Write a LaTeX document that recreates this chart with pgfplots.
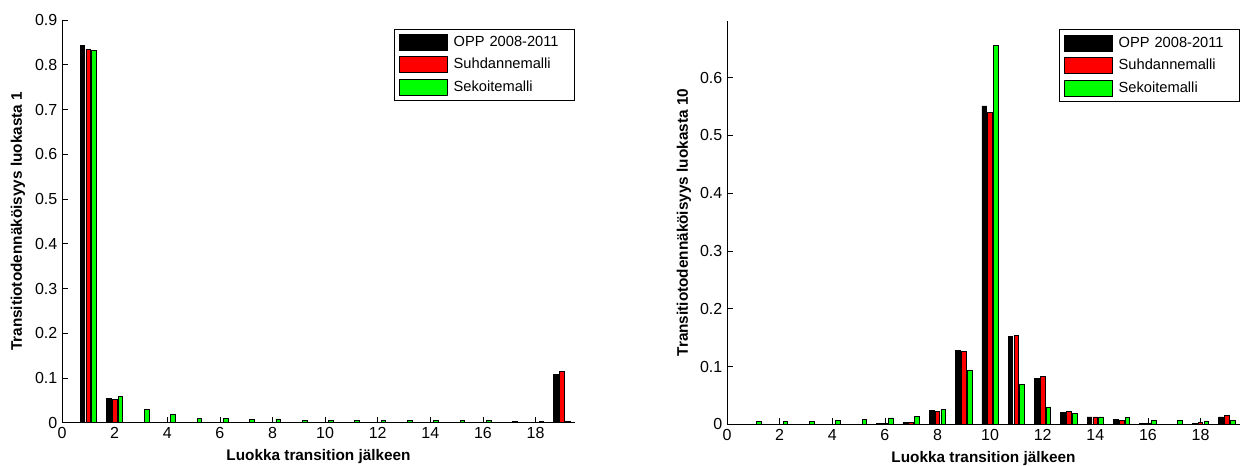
\documentclass[border=0pt]{standalone}
\usepackage{fontspec}
\setmainfont{Liberation Sans}
\usepackage{pgfplots}
\pgfplotsset{compat=1.18}
\definecolor{mred}{rgb}{1,0,0}
\definecolor{mgreen}{rgb}{0,1,0}
\pgfplotsset{
  mstyle/.style={
    scale only axis,
    width=384.75pt,
    xmin=0, xmax=19.5, ymin=0,
    axis x line*=bottom, axis y line*=left,
    axis line style={-, line width=0.6pt},
    tick align=inside,
    major tick length=4.5pt,
    tick style={line width=0.5pt, black},
    xtick={0,2,4,6,8,10,12,14,16,18},
    /pgf/number format/assume math mode=true,
    ticklabel style={font=\fontsize{12}{14}\selectfont},
    yticklabel style={/pgf/number format/fixed},
    label style={font=\bfseries\fontsize{11.5}{13}\selectfont},
    xlabel={Luokka transition jälkeen},
    xlabel style={at={(axis description cs:0.5,-0.084)}, anchor=center},
    legend cell align=left,
    legend style={at={(1.0,0.979)}, anchor=north east, draw=black, line width=0.75pt,
      fill=white, font=\fontsize{11}{13}\selectfont, inner xsep=3pt, inner ysep=3.5pt,
      row sep=4.2pt,
      /tikz/every odd column/.append style={column sep=3pt},
      nodes={inner sep=1.6pt, text width=86pt}},
  },
  bb/.style={ybar, bar width=0.178, bar shift=-0.222, fill=black, draw=black, line width=0.6pt,
    legend image code/.code={\draw[fill=black,draw=black,line width=0.6pt] (0pt,-6pt) rectangle (36pt,6pt);}},
  br/.style={ybar, bar width=0.178, bar shift=0, fill=mred, draw=black, line width=0.6pt,
    legend image code/.code={\draw[fill=mred,draw=black,line width=0.6pt] (0pt,-6pt) rectangle (36pt,6pt);}},
  bg/.style={ybar, bar width=0.178, bar shift=0.222, fill=mgreen, draw=black, line width=0.6pt,
    legend image code/.code={\draw[fill=mgreen,draw=black,line width=0.6pt] (0pt,-6pt) rectangle (36pt,6pt);}},
}
\begin{document}
\begin{tikzpicture}
\path[use as bounding box, clip] (0,0) rectangle (930pt,348.75pt);
% ---------------- left panel
\begin{axis}[mstyle,
  at={(46.5pt,31.7pt)}, anchor=south west, height=302pt,
  ymax=0.9,
  ytick={0,0.1,0.2,0.3,0.4,0.5,0.6,0.7,0.8,0.9},
  ylabel={Transitiotodennäköisyys luokasta 1},
  ylabel style={at={(axis description cs:-0.0858,0.5)}, anchor=center},
]
\addplot[bb] coordinates {(1,0.843) (2,0.0545) (19,0.108)};
\addlegendentry{OPP 2008-2011}
\addplot[br] coordinates {(1,0.835) (2,0.053) (19,0.1156)};
\addlegendentry{Suhdannemalli}
\addplot[bg] coordinates {(1,0.832) (2,0.058) (3,0.0306) (4,0.0187) (5,0.0098) (6,0.0098)
  (7,0.0075) (8,0.0085) (9,0.0058) (10,0.005) (11,0.0058) (12,0.005) (13,0.005) (14,0.0055)
  (15,0.005) (16,0.005) (17,0.002) (18,0.002) (19,0.002)};
\addlegendentry{Sekoitemalli}
\end{axis}
% ---------------- right panel
\begin{axis}[mstyle,
  at={(545.25pt,30.5pt)}, anchor=south west, height=302.5pt,
  ymax=0.698,
  ytick={0,0.1,0.2,0.3,0.4,0.5,0.6},
  ylabel={Transitiotodennäköisyys luokasta 10},
  ylabel style={at={(axis description cs:-0.0838,0.5)}, anchor=center},
]
\addplot[bb] coordinates {(6,0.002) (7,0.0025) (8,0.0235) (9,0.1274) (10,0.551) (11,0.152)
  (12,0.079) (13,0.0213) (14,0.0127) (15,0.008) (16,0.002) (18,0.002) (19,0.0127)};
\addlegendentry{OPP 2008-2011}
\addplot[br] coordinates {(6,0.002) (7,0.0025) (8,0.0225) (9,0.1257) (10,0.540) (11,0.1546)
  (12,0.083) (13,0.023) (14,0.0127) (15,0.007) (16,0.002) (18,0.0035) (19,0.016)};
\addlegendentry{Suhdannemalli}
\addplot[bg] coordinates {(1,0.0052) (2,0.005) (3,0.0046) (4,0.007) (5,0.0087) (6,0.011)
  (7,0.013) (8,0.0253) (9,0.0934) (10,0.655) (11,0.0686) (12,0.030) (13,0.019) (14,0.0127)
  (15,0.0115) (16,0.0075) (17,0.0075) (18,0.0058) (19,0.0075)};
\addlegendentry{Sekoitemalli}
\end{axis}
\end{tikzpicture}
\end{document}
